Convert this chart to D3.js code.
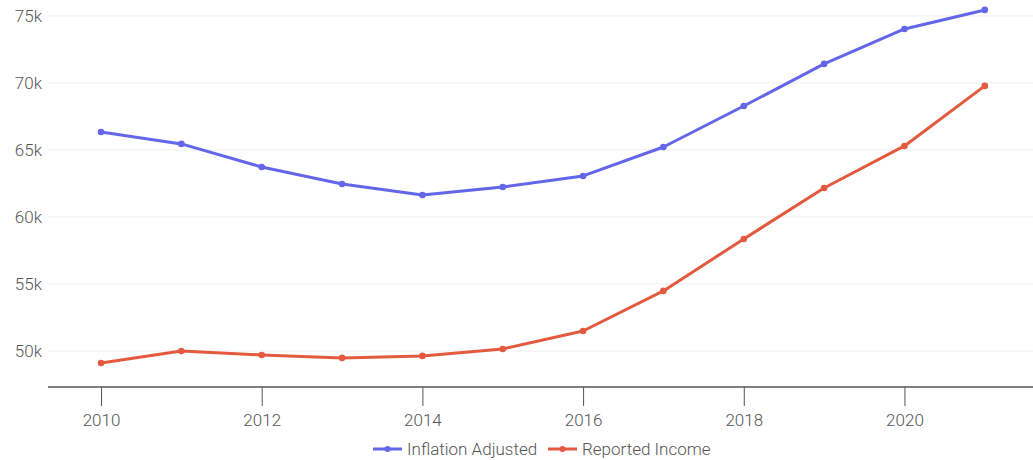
<!DOCTYPE html>
<html>
<head>
<meta charset="utf-8" />
<script src="https://cdn.jsdelivr.net/npm/d3@7/dist/d3.min.js"></script>
<style>
body { margin: 0; background: #fff; font-family: Roboto, sans-serif; }
.tick text { fill: #555; }
</style>
</head>
<body>
<svg id="chart" width="1033" height="460"></svg>
<script>
var years       = [2010, 2011, 2012, 2013, 2014, 2015, 2016, 2017, 2018, 2019, 2020, 2021];
var inflation   = [66340, 65450, 63730, 62460, 61640, 62240, 63060, 65220, 68280, 71420, 74030, 75450];
var reported    = [49100, 50000, 49700, 49480, 49630, 50150, 51490, 54480, 58360, 62160, 65300, 69780];
var seriesNames = ["Inflation Adjusted", "Reported Income"];
var colors      = ["#6366e8", "#e35a3f"];
var xTicks      = [2010, 2012, 2014, 2016, 2018, 2020];
var yTicks      = [50000, 55000, 60000, 65000, 70000, 75000];

var svg = d3.select("#chart");
var m = {left: 48, right: 1033, top: 0, bottom: 387};

var x = d3.scaleLinear().domain([2009.34, 2021.6]).range([m.left, m.right]);
var y = d3.scaleLinear().domain([47310, 76190]).range([m.bottom, m.top]);

// grid lines
svg.append("g").selectAll("line").data(yTicks).enter().append("line")
	.attr("x1", m.left).attr("x2", m.right)
	.attr("y1", function(d) { return y(d); })
	.attr("y2", function(d) { return y(d); })
	.attr("stroke", "#eeeeee").attr("stroke-width", 1);

// y labels
var yAxis = svg.append("g")
	.attr("transform", "translate(" + (m.left - 6) + ",0)")
	.call(d3.axisLeft(y).tickValues(yTicks).tickSize(0).tickPadding(0)
		.tickFormat(function(d) { return (d / 1000) + "k"; }));
yAxis.select(".domain").remove();
yAxis.attr("font-size", 17).attr("font-family", "Roboto, sans-serif").attr("font-weight", 300);

// x axis
var xAxis = svg.append("g")
	.attr("transform", "translate(0," + m.bottom + ")")
	.call(d3.axisBottom(x).tickValues(xTicks).tickSize(19).tickPadding(8).tickFormat(d3.format("d")));
xAxis.select(".domain").attr("stroke", "#555").attr("stroke-width", 1.3)
	.attr("d", "M" + m.left + ",0H" + m.right);
xAxis.selectAll(".tick line").attr("stroke", "#555");
xAxis.attr("font-size", 17).attr("font-family", "Roboto, sans-serif").attr("font-weight", 300);

// lines
var series = [inflation, reported];
var line = d3.line()
	.x(function(d, i) { return x(years[i]); })
	.y(function(d) { return y(d); });

series.forEach(function(vals, k) {
	svg.append("path")
		.datum(vals)
		.attr("d", line)
		.attr("fill", "none")
		.attr("stroke", colors[k])
		.attr("stroke-width", 3)
		.attr("stroke-linejoin", "round");
	svg.append("g").selectAll("circle").data(vals).enter().append("circle")
		.attr("cx", function(d, i) { return x(years[i]); })
		.attr("cy", function(d) { return y(d); })
		.attr("r", 3.3)
		.attr("fill", colors[k]);
});

// legend
var legendX = [373, 548];
seriesNames.forEach(function(name, k) {
	var g = svg.append("g").attr("transform", "translate(" + legendX[k] + ",449)");
	g.append("line").attr("x1", 0).attr("x2", 29).attr("y1", 0).attr("y2", 0)
		.attr("stroke", colors[k]).attr("stroke-width", 3);
	g.append("circle").attr("cx", 14.5).attr("cy", 0).attr("r", 3).attr("fill", colors[k]);
	g.append("text").attr("x", 34).attr("y", 0).attr("dy", "0.35em")
		.attr("font-size", 17).attr("fill", "#555").attr("font-weight", 300)
		.attr("font-family", "Roboto, sans-serif")
		.text(name);
});
</script>
</body>
</html>
